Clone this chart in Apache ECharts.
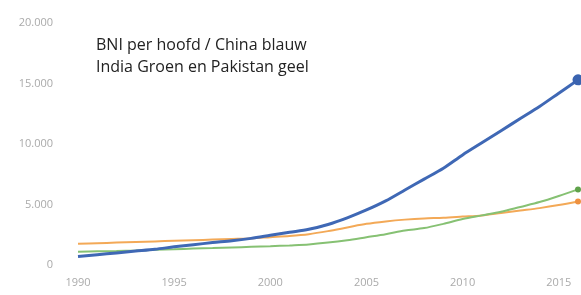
<!DOCTYPE html>
<html lang="nl">
<head>
    <meta charset="utf-8">
    <title>BNI per hoofd</title>
    <script src="https://cdn.jsdelivr.net/npm/echarts@6/dist/echarts.min.js"></script>
    <style>
        html, body { margin: 0; padding: 0; background: #fff; }
        #main { width: 581px; height: 295px; }
    </style>
</head>
<body>
<div id="main"></div>
<script>
    // jaren 1990 - 2016
    var years = [];
    for (var y = 1990; y <= 2016; y++) years.push(y);

    var china = [700, 850, 1000, 1150, 1300, 1500, 1680, 1850, 2000, 2200, 2450, 2700, 2950, 3350,
        3900, 4550, 5300, 6200, 7100, 8000, 9100, 10100, 11100, 12100, 13100, 14200, 15300];
    var india = [1100, 1130, 1160, 1200, 1250, 1300, 1360, 1400, 1450, 1500, 1550, 1620, 1700, 1850,
        2050, 2300, 2550, 2850, 3050, 3400, 3800, 4100, 4400, 4800, 5200, 5700, 6250];
    var pakistan = [1750, 1800, 1850, 1900, 1950, 2000, 2050, 2100, 2150, 2200, 2300, 2400, 2550, 2800,
        3100, 3400, 3600, 3750, 3850, 3900, 4000, 4100, 4300, 4500, 4700, 4950, 5250];

    var titleLines = ['BNI per hoofd / China blauw', 'India Groen en Pakistan geel'];

    function pairs(vals) {
        return vals.map(function (v, i) { return [years[i], v]; });
    }

    // alleen het laatste punt krijgt een stip
    function lastDot(size) {
        return function (v, p) { return p.dataIndex === years.length - 1 ? size : 0; };
    }

    var chart = echarts.init(document.getElementById('main'));
    chart.setOption({
        backgroundColor: '#fff',
        animation: false,
        title: {
            text: titleLines.join('\n'),
            left: 96,
            top: 34,
            padding: 0,
            textStyle: {
                fontFamily: 'Open Sans',
                fontSize: 16,
                fontWeight: 'normal',
                color: '#222',
                lineHeight: 22
            }
        },
        grid: { left: 78, right: 3, top: 23, bottom: 30 },
        xAxis: {
            type: 'value',
            min: 1990,
            max: 2016,
            interval: 5,
            axisLine: { show: false },
            axisTick: { show: false },
            splitLine: { show: false },
            axisLabel: {
                margin: 12,
                color: '#aaa',
                fontFamily: 'Open Sans',
                fontSize: 11,
                formatter: function (v) { return String(v); }
            }
        },
        yAxis: {
            type: 'value',
            min: 0,
            max: 20000,
            interval: 5000,
            axisLine: { show: false },
            axisTick: { show: false },
            splitLine: { show: false },
            axisLabel: {
                margin: 25,
                color: '#aaa',
                fontFamily: 'Open Sans',
                fontSize: 11,
                formatter: function (v) {
                    return v >= 1000 ? (v / 1000) + '.000' : String(v);
                }
            }
        },
        series: [
            {
                name: 'Pakistan',
                type: 'line',
                data: pairs(pakistan),
                smooth: 0.3,
                clip: false,
                symbol: 'circle',
                symbolSize: lastDot(6),
                lineStyle: { color: '#f3a957', width: 2 },
                itemStyle: { color: '#ee9140' }
            },
            {
                name: 'India',
                type: 'line',
                data: pairs(india),
                smooth: 0.3,
                clip: false,
                symbol: 'circle',
                symbolSize: lastDot(6),
                lineStyle: { color: '#86c173', width: 2 },
                itemStyle: { color: '#5fa24a' }
            },
            {
                name: 'China',
                type: 'line',
                data: pairs(china),
                smooth: 0.3,
                clip: false,
                symbol: 'circle',
                symbolSize: lastDot(11),
                lineStyle: { color: '#3f68b5', width: 3 },
                itemStyle: { color: '#3a63b0' }
            }
        ]
    });
</script>
</body>
</html>
